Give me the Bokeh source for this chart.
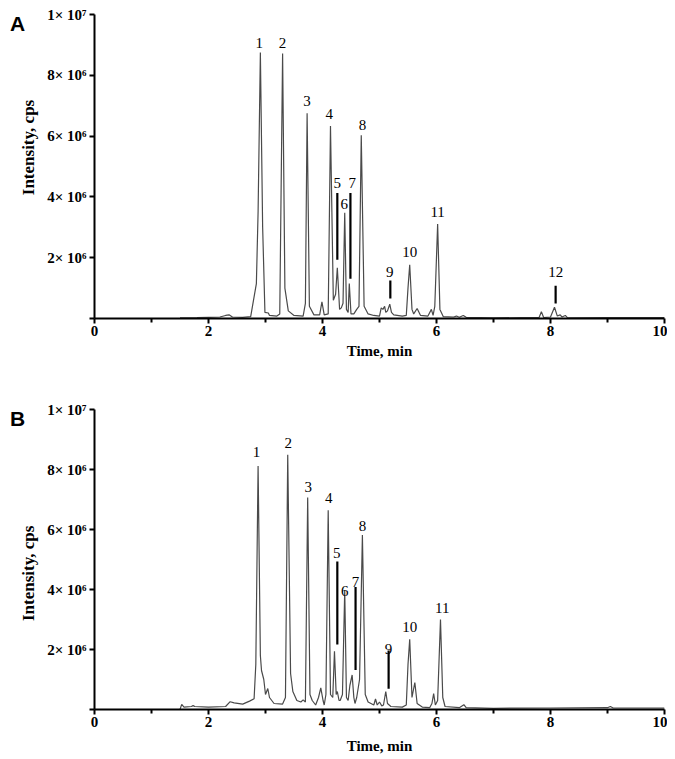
import math
from bokeh.plotting import figure
from bokeh.layouts import column, row
from bokeh.models import FixedTicker, Range1d
from bokeh.core.properties import value
from bokeh.embed import file_html
from bokeh.resources import INLINE

# ---- data (time in min, intensity in units of 1e6 cps) ----
time_a = [1.50, 1.80, 2.00, 2.20, 2.30, 2.36, 2.42, 2.60, 2.74, 2.78, 2.84, 2.87, 2.91, 2.95, 2.99,
          3.05, 3.07, 3.20, 3.25, 3.30, 3.34, 3.40, 3.50, 3.66, 3.70, 3.73, 3.77, 3.85, 3.95, 3.99,
          4.03, 4.10, 4.14, 4.19, 4.23, 4.26, 4.30, 4.33, 4.36, 4.39, 4.42, 4.45, 4.47, 4.50, 4.55,
          4.60, 4.64, 4.68, 4.73, 4.80, 4.90, 5.00, 5.03, 5.06, 5.09, 5.11, 5.14, 5.18, 5.21, 5.25,
          5.40, 5.47, 5.50, 5.53, 5.57, 5.60, 5.66, 5.72, 5.85, 5.91, 5.94, 5.97, 6.02, 6.06, 6.12,
          6.30, 6.35, 6.40, 6.47, 6.52, 7.00, 7.50, 7.80, 7.84, 7.88, 8.00, 8.07, 8.12, 8.17, 8.20,
          8.26, 8.30, 9.00, 10.00]
int_a = [0.02, 0.03, 0.04, 0.05, 0.10, 0.12, 0.05, 0.04, 0.06, 0.50, 1.15, 3.50, 8.75, 3.00, 0.20,
         0.18, 0.10, 0.08, 0.15, 8.72, 1.00, 0.25, 0.10, 0.08, 0.50, 6.75, 0.40, 0.12, 0.12, 0.55,
         0.12, 0.15, 6.33, 0.60, 0.80, 1.67, 0.30, 0.35, 0.50, 3.48, 0.30, 0.20, 1.15, 0.15, 0.15,
         0.30, 0.40, 6.03, 0.40, 0.15, 0.10, 0.08, 0.35, 0.30, 0.40, 0.20, 0.25, 0.47, 0.20, 0.12,
         0.08, 0.10, 1.00, 1.77, 0.30, 0.15, 0.33, 0.10, 0.08, 0.30, 0.10, 0.40, 3.11, 0.30, 0.06,
         0.05, 0.08, 0.04, 0.10, 0.04, 0.02, 0.03, 0.03, 0.22, 0.03, 0.05, 0.37, 0.08, 0.12, 0.05,
         0.10, 0.02, 0.03, 0.03]

time_b = [1.50, 1.53, 1.57, 1.70, 1.73, 1.76, 2.00, 2.30, 2.38, 2.45, 2.60, 2.72, 2.80, 2.83, 2.87,
          2.91, 2.93, 2.97, 3.00, 3.04, 3.07, 3.15, 3.30, 3.35, 3.39, 3.44, 3.48, 3.55, 3.62, 3.66,
          3.70, 3.74, 3.78, 3.82, 3.88, 3.93, 3.97, 4.01, 4.03, 4.06, 4.10, 4.14, 4.18, 4.21, 4.24,
          4.26, 4.29, 4.31, 4.35, 4.39, 4.42, 4.45, 4.48, 4.52, 4.55, 4.57, 4.60, 4.65, 4.70, 4.75,
          4.80, 4.90, 4.93, 4.96, 5.00, 5.04, 5.07, 5.11, 5.14, 5.20, 5.40, 5.47, 5.50, 5.53, 5.57,
          5.62, 5.66, 5.75, 5.88, 5.92, 5.95, 5.98, 6.02, 6.07, 6.11, 6.15, 6.40, 6.48, 6.52, 7.00,
          8.00, 9.00, 9.05, 9.10, 10.00]
int_b = [0.00, 0.17, 0.08, 0.10, 0.13, 0.10, 0.08, 0.10, 0.26, 0.22, 0.18, 0.28, 0.36, 1.50, 8.12,
         1.80, 1.30, 1.00, 0.50, 0.70, 0.40, 0.20, 0.18, 0.40, 8.49, 1.20, 0.60, 0.30, 0.25, 0.32,
         0.25, 7.07, 0.50, 0.30, 0.15, 0.40, 0.72, 0.30, 0.15, 0.50, 6.64, 0.50, 0.40, 1.94, 0.50,
         0.60, 0.30, 0.30, 0.50, 3.98, 0.40, 0.30, 0.80, 1.15, 0.40, 0.20, 0.40, 1.00, 5.82, 0.50,
         0.25, 0.15, 0.35, 0.15, 0.25, 0.12, 0.15, 0.60, 0.20, 0.10, 0.08, 0.15, 1.50, 2.34, 0.40,
         0.90, 0.20, 0.08, 0.06, 0.20, 0.53, 0.15, 0.30, 3.00, 0.40, 0.10, 0.06, 0.16, 0.06, 0.04,
         0.05, 0.06, 0.10, 0.05, 0.05]

# peak labels: number, x, y (1e6)
peak_names_a = ["1", "2", "3", "4", "5", "6", "7", "8", "9", "10", "11", "12"]
peak_x_a = [2.89, 3.30, 3.73, 4.12, 4.26, 4.38, 4.52, 4.70, 5.18, 5.53, 6.02, 8.09]
peak_y_a = [9.05, 9.05, 7.15, 6.72, 4.46, 3.77, 4.46, 6.36, 1.54, 2.20, 3.51, 1.54]
bar_x_a = [4.26, 4.49, 5.19, 8.09]
bar_top_a = [4.13, 4.13, 1.25, 1.08]
bar_bot_a = [1.93, 1.31, 0.66, 0.49]

peak_names_b = ["1", "2", "3", "4", "5", "6", "7", "8", "9", "10", "11"]
peak_x_b = [2.84, 3.40, 3.75, 4.11, 4.25, 4.39, 4.58, 4.70, 5.16, 5.53, 6.10]
peak_y_b = [8.59, 8.88, 7.43, 7.04, 5.23, 3.95, 4.24, 6.12, 2.01, 2.76, 3.39]
bar_x_b = [4.26, 4.58, 5.16]
bar_top_b = [4.93, 4.08, 1.97]
bar_bot_b = [2.17, 1.32, 0.69]

y_ticks = [0, 2e6, 4e6, 6e6, 8e6, 1e7]
y_tick_labels = ["", "2× 10⁶", "4× 10⁶", "6× 10⁶", "8× 10⁶", "1× 10⁷"]
x_major = [0, 2, 4, 6, 8, 10]
x_minor = [1, 3, 5, 7, 9]
panel_letters = ["A", "B"]
y_title = "Intensity, cps"
x_title = "Time, min"

SERIF = "Liberation Serif"
SCALE = 1e6
SIDE_W = 40


def side_strip(letter, h, top, bottom, letter_y, title_y):
    # narrow strip holding the panel letter and the rotated y-axis title;
    # its frame lines up with the panel's frame, y measured in px from the figure top
    s = figure(width=SIDE_W, height=h, output_backend="svg", toolbar_location=None,
               x_range=Range1d(0, SIDE_W), y_range=Range1d(h - bottom, top),
               x_axis_type=None, y_axis_type=None,
               min_border_left=0, min_border_right=0,
               min_border_top=top, min_border_bottom=bottom)
    s.outline_line_color = None
    s.xgrid.visible = False
    s.ygrid.visible = False
    s.text(x=[17], y=[letter_y], text=[letter], text_font=value("Liberation Sans"),
           text_font_style="bold", text_font_size="21px", text_align="center",
           text_baseline="middle", text_color="black")
    s.text(x=[28], y=[title_y], text=[y_title], text_font=value(SERIF),
           text_font_style="bold", text_font_size="17px", text_align="center",
           text_baseline="middle", text_color="black", angle=math.pi / 2)
    return s


def make_panel(t, inten, names, px, py, bx, btop, bbot, h, top, bottom, xlab_standoff):
    p = figure(width=667 - SIDE_W, height=h, output_backend="svg", toolbar_location=None,
               x_range=(0, 10), y_range=(0, 1e7),
               min_border_left=94 - SIDE_W, min_border_right=3,
               min_border_top=top, min_border_bottom=bottom)
    p.outline_line_color = None
    p.xgrid.visible = False
    p.ygrid.visible = False

    p.line(t, [v * SCALE for v in inten], line_color="#4a4a4a", line_width=1.2)
    p.segment(x0=bx, x1=bx, y0=[v * SCALE for v in btop], y1=[v * SCALE for v in bbot],
              line_color="black", line_width=2.2)
    p.text(x=px, y=[v * SCALE for v in py], text=names, text_font=value(SERIF),
           text_font_size="15px", text_align="center", text_baseline="middle",
           text_color="black")

    p.xaxis.ticker = FixedTicker(ticks=x_major, minor_ticks=x_minor)
    p.yaxis.ticker = FixedTicker(ticks=y_ticks, minor_ticks=[])
    p.yaxis.major_label_overrides = {int(k): v for k, v in zip(y_ticks, y_tick_labels)}
    for ax in (p.xaxis, p.yaxis):
        ax.axis_line_width = 2
        ax.axis_line_color = "black"
        ax.major_tick_line_width = 2
        ax.major_tick_line_color = "black"
        ax.minor_tick_line_width = 2
        ax.minor_tick_line_color = "black"
        ax.major_tick_in = 0
        ax.major_tick_out = 5
        ax.minor_tick_in = 0
        ax.minor_tick_out = 4
        ax.major_label_text_font = SERIF
        ax.major_label_text_font_style = "bold"
        ax.major_label_text_font_size = "15px"
        ax.major_label_text_color = "black"
        ax.axis_label_text_font = SERIF
        ax.axis_label_text_font_style = "bold"
        ax.axis_label_text_color = "black"
    p.xaxis.major_label_standoff = 2
    p.yaxis.major_label_standoff = 3
    p.xaxis.axis_label = x_title
    p.xaxis.axis_label_text_font_size = "15px"
    p.xaxis.axis_label_standoff = xlab_standoff
    return p


HA, HB = 376, 380
TA, BA = 14, 58
TB, BB = 33, 43
sa = side_strip(panel_letters[0], HA, TA, BA, 23, 147)
pa = make_panel(time_a, int_a, peak_names_a, peak_x_a, peak_y_a,
                bar_x_a, bar_top_a, bar_bot_a, HA, TA, BA, 4)
sb = side_strip(panel_letters[1], HB, TB, BB, 42, 199)
pb = make_panel(time_b, int_b, peak_names_b, peak_x_b, peak_y_b,
                bar_x_b, bar_top_b, bar_bot_b, HB, TB, BB, 8)

layout = column(row(sa, pa), row(sb, pb))
open("out.html", "w").write(file_html(layout, INLINE))
